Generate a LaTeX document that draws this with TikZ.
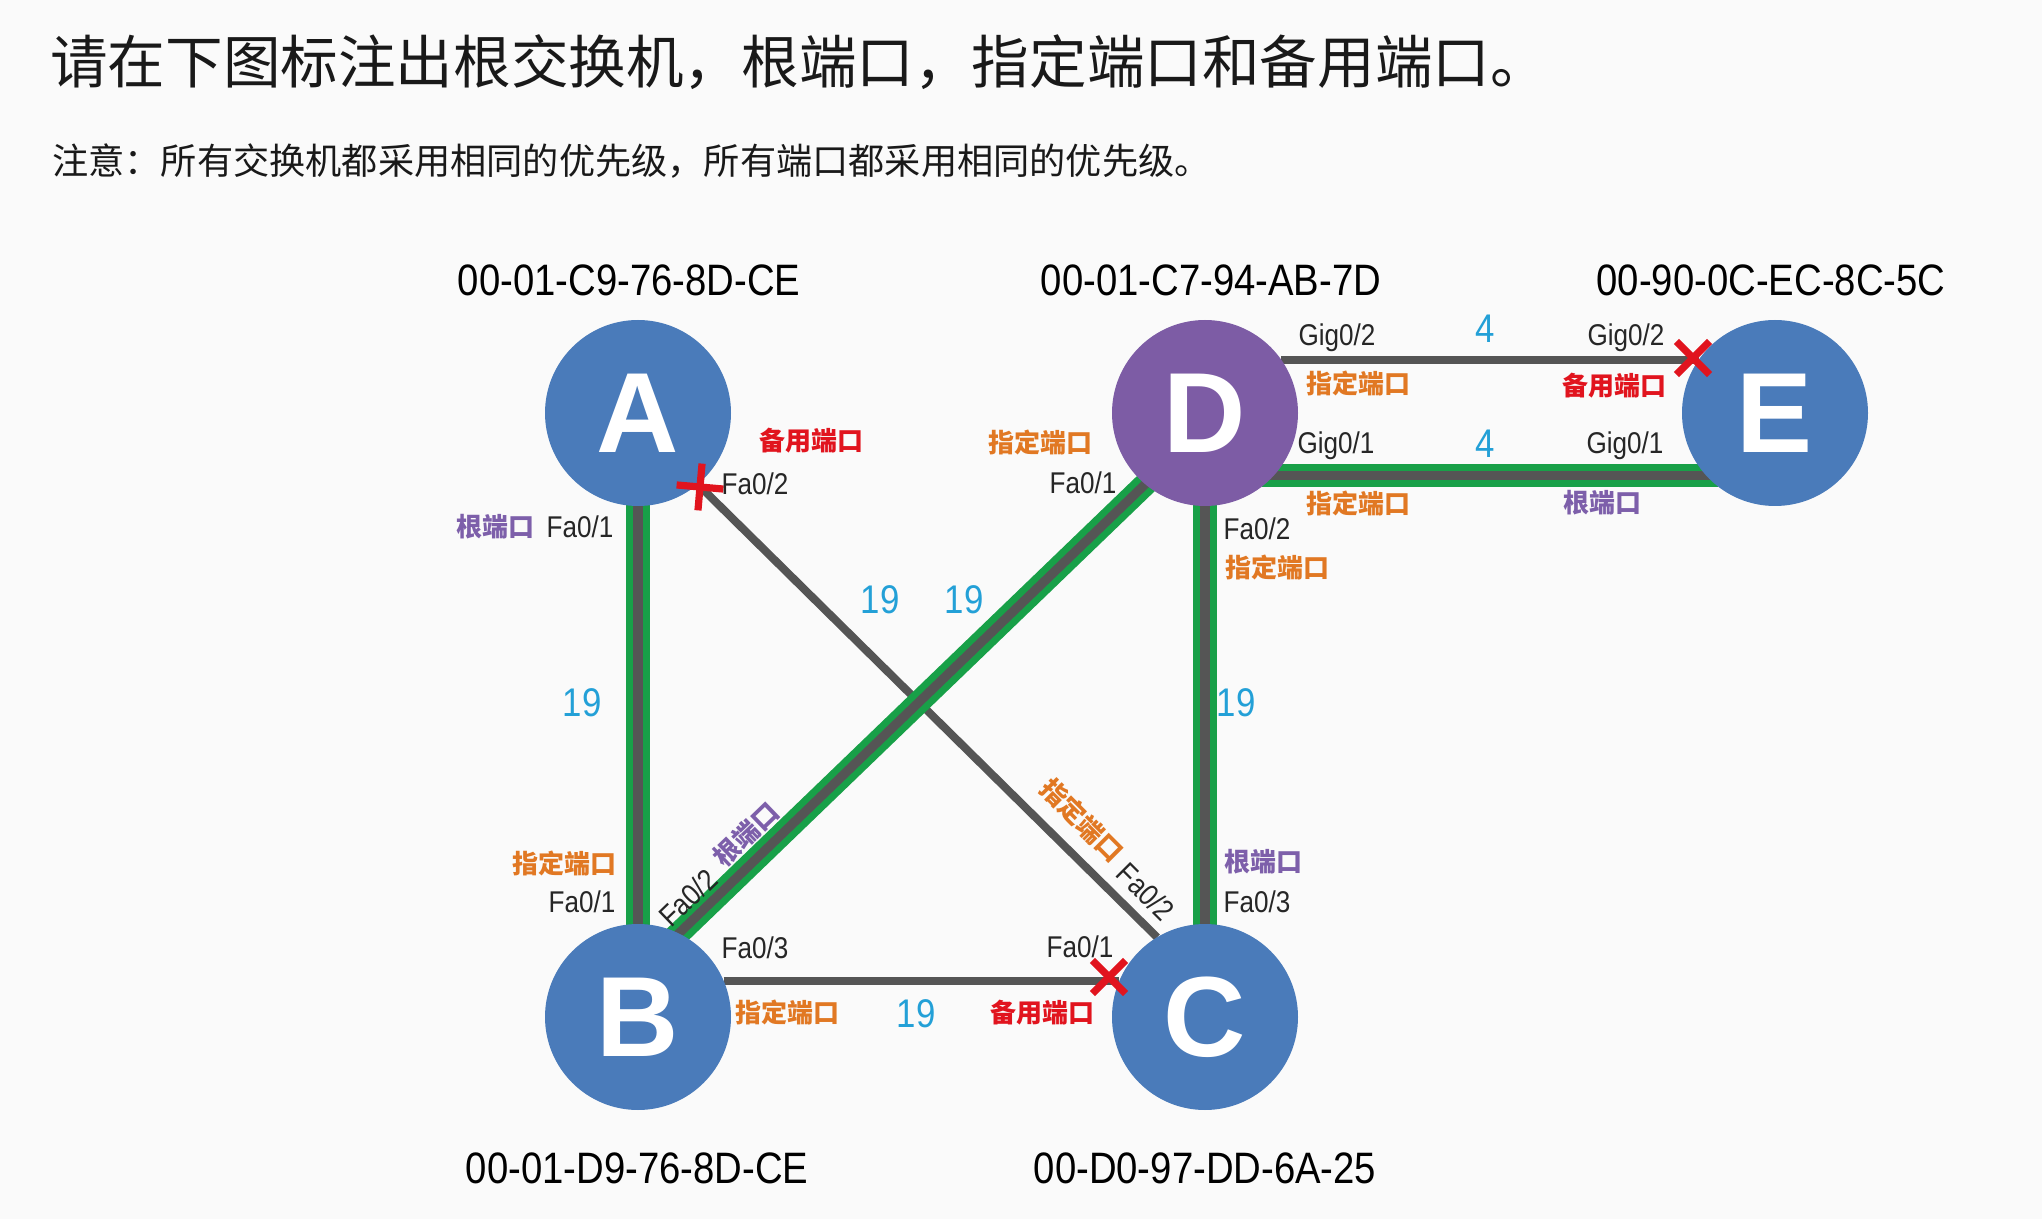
\documentclass[tikz,border=0pt]{standalone}
\usepackage{fontspec}
\setmainfont{Liberation Sans}
\newfontfamily\cjk{Noto Sans CJK SC}
\newfontfamily\narrowf[FakeStretch=0.87]{Liberation Sans}
\usetikzlibrary{backgrounds,shapes.misc}
\definecolor{bgc}{RGB}{250,250,250}
\definecolor{swblue}{RGB}{74,123,186}
\definecolor{swpurple}{RGB}{125,92,165}
\definecolor{lgreen}{RGB}{24,160,72}
\definecolor{lgray}{RGB}{85,85,85}
\definecolor{costblue}{RGB}{35,160,215}
\definecolor{porange}{RGB}{225,120,35}
\definecolor{pred}{RGB}{225,20,30}
\definecolor{ppurple}{RGB}{125,95,170}
\tikzset{
  sw/.style={circle, fill=swblue, minimum size=93pt, inner sep=0pt, outer sep=0pt,
    text=white, font=\fontsize{57}{57}\selectfont\bfseries},
  mac/.style={font=\narrowf\fontsize{22}{22}\selectfont, text=black, inner sep=0pt},
  port/.style={font=\narrowf\fontsize{15}{15}\selectfont, text=black!85, inner sep=0pt},
  cost/.style={font=\narrowf\fontsize{20}{20}\selectfont, text=costblue, inner sep=0pt},
  plabel/.style={font=\cjk\bfseries\fontsize{13}{13}\selectfont, inner sep=0pt},
  desig/.style={plabel, text=porange},
  altp/.style={plabel, text=pred},
  rootp/.style={plabel, text=ppurple},
  active/.style={draw=lgreen, line width=3.5pt, double=lgray, double distance=4.6pt,
    shorten <=-6pt, shorten >=-6pt},
  blocked/.style={draw=lgray, line width=4pt},
  xmark/.style={cross out, draw=pred, line width=3.6pt, minimum size=13pt, inner sep=0pt}
}
\begin{document}
\begin{tikzpicture}[x=0.5pt,y=-0.5pt]
\useasboundingbox (0,0) rectangle (2042,1219);

% title
\node[anchor=west, inner sep=0pt, font=\cjk\fontsize{28.8}{30}\selectfont, text=black!90] (title) at (50,62)
  {请在下图标注出根交换机，根端口，指定端口和备用端口。};
\node[anchor=west, inner sep=0pt, font=\cjk\fontsize{18.1}{20}\selectfont, text=black!90] (note) at (52,161)
  {注意：所有交换机都采用相同的优先级，所有端口都采用相同的优先级。};

% switches
\node[sw] (A) at (638,413) {A};
\node[sw] (B) at (638,1017) {B};
\node[sw] (C) at (1205,1017) {C};
\node[sw, fill=swpurple] (D) at (1205,413) {D};
\node[sw] (E) at (1775,413) {E};

% links
\begin{pgfonlayer}{background}
  \fill[bgc] (0,0) rectangle (2042,1219);
  \draw[active] (A) -- (B);
  \draw[active] (D) -- (C);
  \draw[blocked] (A.-50) -- (C.121);
  \draw[active] (B.64) -- (D.230);
  \draw[blocked] (B.23) -- (C.157);
  \draw[blocked] (D.35) -- (E.145);
  \draw[active] (D.-42) -- (E.-138);
\end{pgfonlayer}

% blocked-port marks
\node[xmark, rotate=40] (xA) at (700,487) {};
\node[xmark] (xC) at (1109,977) {};
\node[xmark] (xE) at (1693,358) {};

% MAC addresses
\node[mac] (macA) at (629,280) {00-01-C9-76-8D-CE};
\node[mac] (macD) at (1211,280) {00-01-C7-94-AB-7D};
\node[mac] (macE) at (1771,280) {00-90-0C-EC-8C-5C};
\node[mac] (macB) at (637,1168) {00-01-D9-76-8D-CE};
\node[mac] (macC) at (1205,1168) {00-D0-97-DD-6A-25};

% costs
\node[cost] (cAB) at (582,703) {19};
\node[cost] (cAC) at (880,600) {19};
\node[cost] (cBD) at (964,600) {19};
\node[cost] (cDC) at (1236,703) {19};
\node[cost] (cBC) at (916,1014) {19};
\node[cost] (cDE2) at (1485,329) {4};
\node[cost] (cDE1) at (1485,444) {4};

% A ports
\node[port] (pA2) at (755,484) {Fa0/2};
\node[altp] (lA2) at (811,441) {备用端口};
\node[port] (pA1) at (580,527) {Fa0/1};
\node[rootp] (lA1) at (495,527) {根端口};

% D ports
\node[port] (pDg2) at (1337,338) {Gig0/2};
\node[desig] (lDg2) at (1358,383) {指定端口};
\node[port] (pDg1) at (1336,446) {Gig0/1};
\node[desig] (lDg1) at (1358,503) {指定端口};
\node[desig] (lD1) at (1040,442) {指定端口};
\node[port] (pD1) at (1083,483) {Fa0/1};
\node[port] (pD2) at (1257,529) {Fa0/2};
\node[desig] (lD2) at (1277,567) {指定端口};

% E ports
\node[port] (pEg2) at (1626,338) {Gig0/2};
\node[altp] (lEg2) at (1614,386) {备用端口};
\node[port] (pEg1) at (1625,446) {Gig0/1};
\node[rootp] (lEg1) at (1602,503) {根端口};

% B ports
\node[desig] (lB1) at (564,863) {指定端口};
\node[port] (pB1) at (582,902) {Fa0/1};
\node[port, rotate=44] (pB2) at (688,898) {Fa0/2};
\node[rootp, rotate=44] (lB2) at (746,834) {根端口};
\node[port] (pB3) at (755,948) {Fa0/3};
\node[desig] (lB3) at (787,1012) {指定端口};

% C ports
\node[desig, rotate=-45] (lC2) at (1082,820) {指定端口};
\node[port, rotate=-45] (pC2) at (1146,892) {Fa0/2};
\node[rootp] (lC3) at (1263,862) {根端口};
\node[port] (pC3) at (1257,902) {Fa0/3};
\node[port] (pC1) at (1080,947) {Fa0/1};
\node[altp] (lC1) at (1042,1013) {备用端口};
\end{tikzpicture}
\end{document}
